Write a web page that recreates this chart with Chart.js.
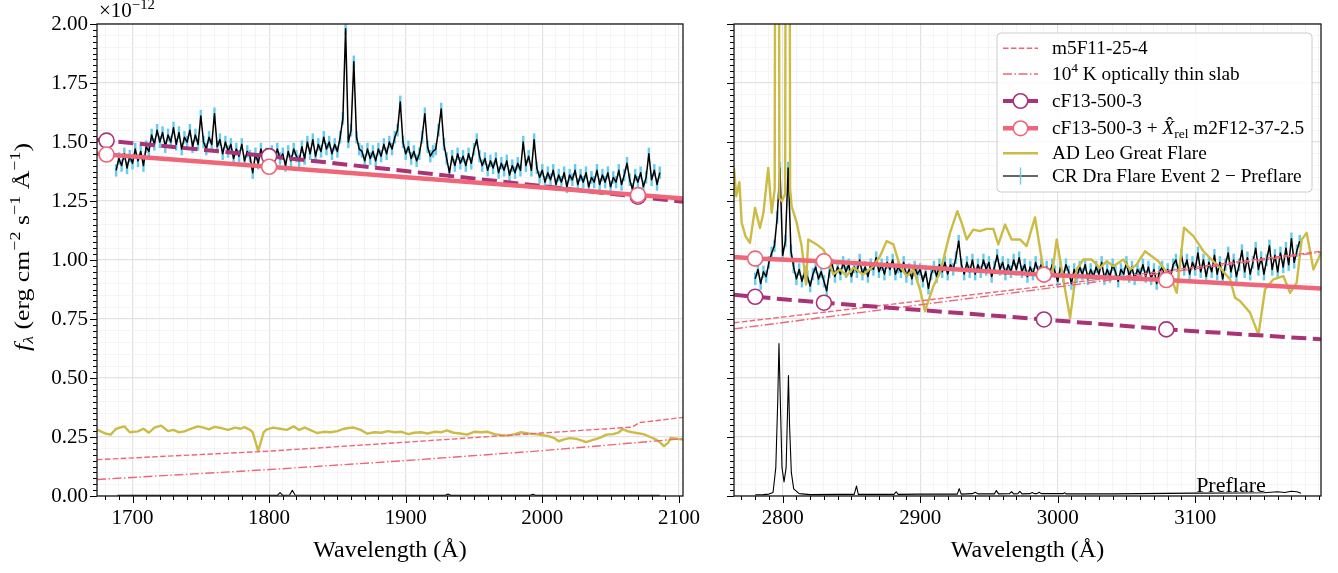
<!DOCTYPE html>
<html><head><meta charset="utf-8">
<script src="https://cdn.jsdelivr.net/npm/chart.js@4.4.1/dist/chart.umd.min.js"></script>
<style>
html,body{margin:0;padding:0;background:#fff;}
#wrap{position:relative;width:1338px;height:573px;overflow:hidden;background:#fff;}
canvas{position:absolute;top:0;}
#cL{left:0;} #cR{left:700px;}
</style></head><body>
<div id="wrap"><canvas id="cL" width="700" height="573"></canvas><canvas id="cR" width="638" height="573"></canvas></div>
<script>
// ---------------- DATA (flux in units of 1e-12 erg cm^-2 s^-1 A^-1) ----------------
const xTicksLeft = [1700, 1800, 1900, 2000, 2100];
const xTicksRight = [2800, 2900, 3000, 3100];
const yTickLabels = ['0.00','0.25','0.50','0.75','1.00','1.25','1.50','1.75','2.00'];

// CR Dra Flare Event 2 - Preflare (left, FUV)
const crLeftWave = [
1688,1690,1692,1694,1696,1698,1700,1702,1704,1706,
1708,1710,1712,1714,1716,1718,1720,1722,1724,1726,
1728,1730,1732,1734,1736,1738,1740,1742,1744,1746,
1748,1750,1752,1754,1756,1758,1760,1762,1764,1766,
1768,1770,1772,1774,1776,1778,1780,1782,1784,1786,
1788,1790,1792,1794,1796,1798,1800,1802,1804,1806,
1808,1810,1812,1814,1816,1818,1820,1822,1824,1826,
1828,1830,1832,1834,1836,1838,1840,1842,1844,1846,
1848,1850,1852,1854,1856,1858,1860,1862,1864,1866,
1868,1870,1872,1874,1876,1878,1880,1882,1884,1886,
1888,1890,1892,1894,1896,1898,1900,1902,1904,1906,
1908,1910,1912,1914,1916,1918,1920,1922,1924,1926,
1928,1930,1932,1934,1936,1938,1940,1942,1944,1946,
1948,1950,1952,1954,1956,1958,1960,1962,1964,1966,
1968,1970,1972,1974,1976,1978,1980,1982,1984,1986,
1988,1990,1992,1994,1996,1998,2000,2002,2004,2006,
2008,2010,2012,2014,2016,2018,2020,2022,2024,2026,
2028,2030,2032,2034,2036,2038,2040,2042,2044,2046,
2048,2050,2052,2054,2056,2058,2060,2062,2064,2066,
2068,2070,2072,2074,2076,2078,2080,2082,2084,2086];
const crLeftFlux = [
1.38,1.43,1.40,1.45,1.39,1.44,1.41,1.47,1.42,1.46,
1.40,1.48,1.46,1.53,1.49,1.55,1.50,1.54,1.48,1.53,
1.50,1.56,1.49,1.54,1.47,1.52,1.50,1.55,1.48,1.53,
1.49,1.61,1.50,1.47,1.52,1.49,1.62,1.48,1.51,1.45,
1.50,1.46,1.49,1.43,1.47,1.44,1.49,1.42,1.46,1.44,
1.37,1.45,1.41,1.47,1.43,1.45,1.41,1.46,1.42,1.47,
1.43,1.45,1.40,1.46,1.42,1.47,1.44,1.42,1.48,1.43,
1.50,1.45,1.51,1.44,1.49,1.46,1.52,1.47,1.50,1.45,
1.49,1.46,1.52,1.60,1.98,1.50,1.55,1.84,1.52,1.47,
1.46,1.42,1.47,1.43,1.46,1.42,1.47,1.44,1.49,1.45,
1.50,1.47,1.52,1.55,1.67,1.50,1.45,1.48,1.43,1.46,
1.42,1.45,1.52,1.62,1.48,1.44,1.46,1.47,1.55,1.64,
1.49,1.43,1.37,1.44,1.40,1.45,1.41,1.44,1.40,1.45,
1.41,1.47,1.51,1.44,1.40,1.43,1.38,1.42,1.39,1.43,
1.37,1.41,1.38,1.42,1.36,1.40,1.37,1.41,1.38,1.50,
1.40,1.44,1.38,1.51,1.39,1.35,1.38,1.33,1.37,1.34,
1.38,1.32,1.36,1.33,1.37,1.31,1.36,1.34,1.38,1.32,
1.36,1.33,1.37,1.31,1.35,1.33,1.38,1.32,1.36,1.33,
1.37,1.31,1.35,1.33,1.38,1.32,1.36,1.41,1.34,1.30,
1.36,1.33,1.37,1.31,1.35,1.45,1.34,1.38,1.32,1.37];
const crLeftErr = 0.025;

// CR Dra Flare Event 2 - Preflare (right, NUV)
const crRightWave = [
2780,2782,2784,2786,2788,2790,2792,2794,2796,2798,
2800,2802,2804,2806,2808,2810,2812,2814,2816,2818,
2820,2822,2824,2826,2828,2830,2832,2834,2836,2838,
2840,2842,2844,2846,2848,2850,2852,2854,2856,2858,
2860,2862,2864,2866,2868,2870,2872,2874,2876,2878,
2880,2882,2884,2886,2888,2890,2892,2894,2896,2898,
2900,2902,2904,2906,2908,2910,2912,2914,2916,2918,
2920,2922,2924,2926,2928,2930,2932,2934,2936,2938,
2940,2942,2944,2946,2948,2950,2952,2954,2956,2958,
2960,2962,2964,2966,2968,2970,2972,2974,2976,2978,
2980,2982,2984,2986,2988,2990,2992,2994,2996,2998,
3000,3002,3004,3006,3008,3010,3012,3014,3016,3018,
3020,3022,3024,3026,3028,3030,3032,3034,3036,3038,
3040,3042,3044,3046,3048,3050,3052,3054,3056,3058,
3060,3062,3064,3066,3068,3070,3072,3074,3076,3078,
3080,3082,3084,3086,3088,3090,3092,3094,3096,3098,
3100,3102,3104,3106,3108,3110,3112,3114,3116,3118,
3120,3122,3124,3126,3128,3130,3132,3134,3136,3138,
3140,3142,3144,3146,3148,3150,3152,3154,3156,3158,
3160,3162,3164,3166,3168,3170,3172,3174,3176];
const crRightFlux = [
0.92,0.96,0.90,0.95,0.93,0.99,1.03,1.06,1.18,1.39,
1.02,1.08,1.39,1.04,0.97,0.92,0.96,0.91,0.95,0.93,
0.89,0.94,0.97,0.92,0.95,0.91,0.87,0.95,0.98,0.93,
0.97,0.94,0.99,0.95,0.98,0.93,0.97,0.95,1.00,0.94,
0.97,0.93,0.98,0.96,1.01,0.95,0.98,0.94,0.99,0.96,
1.00,0.94,0.97,0.95,0.99,0.93,0.96,0.92,0.97,0.94,
0.96,0.91,0.95,0.88,0.94,0.97,0.93,0.98,0.95,0.99,
0.94,0.98,0.96,1.01,1.08,0.98,0.94,0.99,0.95,1.00,
0.94,0.98,0.95,1.00,0.96,0.99,0.93,0.97,1.02,0.96,
0.99,0.94,0.98,0.95,1.00,0.96,1.01,0.95,0.98,0.93,
0.97,0.94,0.99,0.95,0.98,0.93,0.97,0.94,0.98,0.95,
0.91,0.97,0.93,0.98,0.95,0.90,0.96,0.93,0.97,0.94,
0.98,0.92,0.96,0.93,0.97,0.94,0.99,0.92,0.96,0.93,
0.98,0.95,0.91,0.96,0.94,0.99,0.93,0.97,0.92,0.96,
0.94,0.98,0.93,0.97,0.92,0.96,0.90,0.95,0.97,0.92,
0.96,0.93,0.98,1.00,0.95,1.02,0.96,1.00,0.94,0.99,
0.96,1.03,0.95,1.00,0.93,0.99,0.95,1.02,0.94,0.99,
0.92,0.98,1.03,0.95,1.00,0.93,0.98,1.04,0.95,1.01,
0.94,0.99,1.05,0.96,1.01,0.94,1.00,1.06,0.96,1.02,
0.95,1.03,0.97,1.05,0.98,1.09,0.99,1.04,1.08];
const crRightErr = 0.025;

// Preflare spectrum (black, near zero)
const preLeftWave = [1689,1720,1760,1800,1806,1808,1810,1815,1817,1819,1850,1900,1929,1931,1933,1991,1993,1995,2040,2086];
const preLeftFlux = [0.003,0.003,0.003,0.003,0.003,0.014,0.003,0.004,0.024,0.004,0.003,0.003,0.003,0.008,0.003,0.003,0.007,0.003,0.003,0.003];
const preRightWave = [
2780,2786,2790,2793,2795,2796.4,2797.3,2798.3,2799.5,2801,
2802.5,2803.5,2804.2,2805,2806.3,2808,2812,2820,2840,2852,
2853.7,2855,2870,2881,2882.5,2884,2900,2915,2927,2928.4,
2929.8,2938,2940,2942,2954,2955.4,2957,2965,2966.5,2968,
2971,2972.5,2974,2980,2981.5,2983,2985,2986.5,2988,3004,
3005,3006,3040,3080,3100,3130,3150,3160,3165,3170,
3174,3177];
const preRightFlux = [
0.005,0.006,0.008,0.015,0.12,0.40,0.646,0.40,0.12,0.06,
0.12,0.35,0.51,0.30,0.10,0.03,0.01,0.006,0.007,0.007,
0.042,0.007,0.007,0.007,0.018,0.007,0.008,0.008,0.008,0.031,
0.008,0.010,0.016,0.009,0.009,0.023,0.009,0.010,0.018,0.009,
0.010,0.020,0.009,0.010,0.015,0.010,0.010,0.016,0.010,0.010,
0.014,0.009,0.009,0.011,0.012,0.013,0.014,0.018,0.015,0.020,
0.018,0.012];

// AD Leo Great Flare
const adLeftWave = [
1674,1680,1684,1688,1694,1698,1704,1708,1712,1716,
1721,1726,1730,1734,1738,1743,1748,1752,1756,1760,
1765,1770,1775,1779,1782,1786,1788,1790,1792,1794,
1796,1798,1803,1808,1813,1818,1822,1826,1830,1835,
1840,1845,1850,1855,1858,1862,1867,1872,1877,1882,
1887,1892,1897,1902,1906,1911,1916,1921,1926,1930,
1935,1940,1945,1950,1955,1960,1965,1970,1975,1980,
1984,1990,1995,2000,2005,2009,2012,2016,2020,2025,
2029,2032,2036,2042,2047,2052,2056,2059,2062,2066,
2069,2074,2079,2083,2086,2089,2092,2094,2098,2103];
const adLeftFlux = [
0.281,0.265,0.260,0.285,0.295,0.270,0.274,0.285,0.268,0.290,
0.298,0.275,0.280,0.270,0.274,0.285,0.295,0.290,0.282,0.293,
0.288,0.280,0.290,0.285,0.292,0.280,0.270,0.230,0.190,0.230,
0.270,0.281,0.290,0.285,0.280,0.295,0.280,0.290,0.280,0.267,
0.272,0.270,0.275,0.285,0.288,0.290,0.280,0.264,0.270,0.268,
0.275,0.270,0.272,0.262,0.268,0.270,0.265,0.272,0.270,0.278,
0.268,0.265,0.260,0.272,0.270,0.272,0.262,0.258,0.256,0.262,
0.270,0.265,0.262,0.258,0.253,0.245,0.232,0.240,0.245,0.242,
0.235,0.228,0.236,0.246,0.260,0.262,0.270,0.284,0.275,0.270,
0.267,0.262,0.250,0.240,0.228,0.211,0.225,0.246,0.243,0.239];
const adRightWave = [
2764.6,2766.2,2768.5,2770.2,2773,2776.2,2779.9,2783.5,2786,2789.5,
2792,2794.2,2796,2797.6,2799.5,2801.8,2803.8,2805.4,2806.5,2810.2,
2813.8,2817,2818.6,2824.7,2829.6,2833.2,2836.8,2841.7,2846.5,2851.4,
2858.6,2865.9,2870.8,2875.6,2880.5,2885.3,2890.2,2895,2899.9,2903.5,
2909.6,2914.4,2921.7,2927,2930.2,2933.8,2938.6,2943.5,2948.3,2953.2,
2956.8,2961.7,2966.5,2972.6,2977.4,2983.5,2989.6,2995.7,2999.3,3004.1,
3009,3013.8,3018.7,3024.7,3030.8,3035.7,3040.5,3047.8,3052.6,3057.5,
3063.5,3068.4,3073.2,3076.9,3082.9,3086.6,3091.9,3098.7,3106,3112,
3118.1,3125.4,3129,3132.6,3139.9,3146,3150.8,3156.9,3164.1,3169,
3173.8,3177.5,3181.1,3186,3191.5];
const adRightFlux = [
1.39,1.27,1.33,1.158,1.10,1.073,1.221,1.136,1.20,1.39,
1.20,1.30,8.0,1.26,1.25,1.28,8.0,1.30,1.228,1.157,
1.059,0.896,1.087,1.066,1.044,1.002,0.939,0.960,0.932,0.967,
0.939,0.974,1.016,1.080,1.066,0.974,0.932,0.960,0.875,0.783,
0.889,0.946,1.115,1.207,1.157,1.087,1.129,1.122,1.132,1.132,
1.066,1.150,1.087,1.087,1.059,1.180,0.960,0.932,1.087,0.918,
0.755,0.960,1.002,1.002,0.967,0.995,0.974,1.002,0.960,0.981,
1.037,1.016,0.995,0.967,0.918,0.861,1.137,1.101,1.037,1.002,
0.967,0.918,0.840,0.826,0.777,0.684,0.875,0.918,0.932,0.861,
0.903,1.087,1.115,0.960,1.030];

// m5F11-25-4 model
const m5LeftWave = [1674, 1800, 1900, 2000, 2066, 2071, 2103];
const m5LeftFlux = [0.154, 0.190, 0.228, 0.267, 0.292, 0.311, 0.333];
const m5RightWave = [2764.6, 2880, 2986, 3191.5];
const m5RightFlux = [0.734, 0.813, 0.886, 1.037];
// 10^4 K optically thin slab
const slabLeftWave = [1674, 1800, 1900, 2000, 2103];
const slabLeftFlux = [0.070, 0.112, 0.150, 0.192, 0.243];
const slabRightWave = [2764.6, 2880, 2986, 3191.5];
const slabRightFlux = [0.708, 0.795, 0.875, 1.033];
// cF13-500-3
const cfLeftWave = [1674, 1681, 1800, 1900, 2000, 2070, 2103];
const cfLeftFlux = [1.510, 1.506, 1.440, 1.377, 1.313, 1.268, 1.247];
const cfRightWave = [2764.6, 2780, 2830, 2990, 3079, 3191.5];
const cfRightFlux = [0.853, 0.844, 0.819, 0.748, 0.706, 0.664];
// cF13-500-3 + X_rel m2F12-37-2.5
const cfxLeftWave = [1674, 1681, 1800, 1900, 2000, 2070, 2103];
const cfxLeftFlux = [1.450, 1.447, 1.395, 1.351, 1.307, 1.275, 1.261];
const cfxRightWave = [2764.6, 2780, 2830, 2990, 3079, 3191.5];
const cfxRightFlux = [1.013, 1.006, 0.995, 0.938, 0.915, 0.879];
// wavelengths where model markers are shown
const markerLeftWave = [1681, 1800, 2070];
const markerRightWave = [2780, 2830, 2990, 3079];

// ---------------- STYLE ----------------
const FONT = '"Liberation Serif", "DejaVu Serif", serif';
const PURPLE = '#AA3377', PINK = '#EE6677', YELLOW = '#CCBB44', CYAN = '#66CCEE';
const MINUS = '\u2212';

function isMult(v, step) { const r = v / step; return Math.abs(r - Math.round(r)) < 1e-6; }
function pts(w, f) { return w.map((x, i) => ({x: x, y: f[i]})); }
function errs(w, f, e) { return w.map((x, i) => ({x: x, y: [f[i] - e, f[i] + e]})); }

function drawRich(ctx, segs, x, y, size, align, fitWidth) {
  const items = segs.map(s => {
    const fs = s.mode ? size * 0.7 : size;
    const font = (s.italic ? 'italic ' : '') + fs + 'px ' + FONT;
    ctx.font = font;
    const w = ctx.measureText(s.t).width;
    const dy = s.mode === 'sup' ? -size * 0.40 : (s.mode === 'sub' ? size * 0.20 : 0);
    return {s, font, fs, w, dy};
  });
  const total = items.reduce((a, it) => a + it.w, 0);
  ctx.save();
  ctx.translate(x, y);
  if (fitWidth) ctx.scale(fitWidth / total, 1);
  let cx = align === 'center' ? -total / 2 : 0;
  ctx.textAlign = 'left'; ctx.textBaseline = 'alphabetic'; ctx.fillStyle = '#000';
  for (const it of items) {
    ctx.font = it.font;
    ctx.fillText(it.s.t, cx, it.dy);
    if (it.s.hat) {
      ctx.save(); ctx.font = it.fs + 'px ' + FONT; ctx.textAlign = 'center';
      ctx.fillText('\u02C6', cx + it.w * 0.62, it.dy - it.fs * 0.24);
      ctx.restore();
    }
    cx += it.w;
  }
  ctx.restore();
  return total;
}

const framePlugin = {
  id: 'frame',
  afterDatasetsDraw(chart) {
    const {ctx, chartArea: a} = chart;
    const xs = chart.scales.x, ys = chart.scales.y;
    ctx.save();
    ctx.strokeStyle = '#000'; ctx.lineWidth = 1;
    ctx.beginPath();
    xs.ticks.forEach(t => {
      if (!isMult(t.value, 10)) return;
      const len = isMult(t.value, 100) ? 7 : 4;
      const px = Math.round(xs.getPixelForValue(t.value)) + 0.5;
      ctx.moveTo(px, a.bottom); ctx.lineTo(px, a.bottom + len);
    });
    ys.ticks.forEach(t => {
      const len = isMult(t.value, 0.25) ? 7 : 4;
      const py = Math.round(ys.getPixelForValue(t.value)) + 0.5;
      ctx.moveTo(a.left, py); ctx.lineTo(a.left - len, py);
    });
    ctx.stroke();
    ctx.strokeStyle = '#1a1a1a'; ctx.lineWidth = 1.3;
    ctx.strokeRect(a.left, a.top, a.right - a.left, a.bottom - a.top);
    ctx.restore();
  }
};

function xTitle(chart) {
  const {ctx, chartArea: a} = chart;
  drawRich(ctx, [{t: 'Wavelength (\u00C5)'}], (a.left + a.right) / 2, 557, 24, 'center');
}

const leftTextPlugin = {
  id: 'leftText',
  afterDraw(chart) {
    const ctx = chart.ctx;
    xTitle(chart);
    ctx.save();
    ctx.translate(29, 247);
    ctx.rotate(-Math.PI / 2);
    drawRich(ctx, [
      {t: 'f', italic: true}, {t: '\u03BB', italic: true, mode: 'sub'},
      {t: ' (erg cm'}, {t: MINUS + '2', mode: 'sup'},
      {t: ' s'}, {t: MINUS + '1', mode: 'sup'},
      {t: ' \u00C5'}, {t: MINUS + '1', mode: 'sup'}, {t: ')'}
    ], 0, 0, 22, 'center', 208);
    ctx.restore();
    drawRich(ctx, [{t: '\u00D710'}, {t: MINUS + '12', mode: 'sup'}], 99, 17, 21, 'left');
  }
};

const legendRows = [
  {label: [{t: 'm5F11-25-4'}], kind: 'dash'},
  {label: [{t: '10'}, {t: '4', mode: 'sup'}, {t: ' K optically thin slab'}], kind: 'dashdot'},
  {label: [{t: 'cF13-500-3'}], kind: 'purple'},
  {label: [{t: 'cF13-500-3 + '}, {t: 'X', italic: true, hat: true}, {t: 'rel', mode: 'sub'}, {t: ' m2F12-37-2.5'}], kind: 'pink'},
  {label: [{t: 'AD Leo Great Flare'}], kind: 'yellow'},
  {label: [{t: 'CR Dra Flare Event 2 ' + MINUS + ' Preflare'}], kind: 'crdra'}
];
const legendRowY = [48.3, 74, 101, 128.3, 153.3, 176];

const rightTextPlugin = {
  id: 'rightText',
  afterDraw(chart) {
    const ctx = chart.ctx;
    xTitle(chart);
    // "Preflare" annotation placed in data coordinates
    const px = chart.scales.x.getPixelForValue(3126), py = chart.scales.y.getPixelForValue(0.018);
    drawRich(ctx, [{t: 'Preflare'}], px, py, 22, 'center');
    // legend
    const L = 297, T = 33, R = 612, B = 192, r = 4;
    ctx.save();
    ctx.beginPath();
    ctx.moveTo(L + r, T); ctx.lineTo(R - r, T); ctx.quadraticCurveTo(R, T, R, T + r);
    ctx.lineTo(R, B - r); ctx.quadraticCurveTo(R, B, R - r, B);
    ctx.lineTo(L + r, B); ctx.quadraticCurveTo(L, B, L, B - r);
    ctx.lineTo(L, T + r); ctx.quadraticCurveTo(L, T, L + r, T);
    ctx.closePath();
    ctx.fillStyle = 'rgba(255,255,255,0.85)'; ctx.fill();
    ctx.strokeStyle = '#cccccc'; ctx.lineWidth = 1; ctx.stroke();
    const h0 = 303, h1 = 338, hc = (h0 + h1) / 2;
    legendRows.forEach((row, i) => {
      const y = legendRowY[i];
      ctx.save();
      ctx.lineCap = 'butt';
      if (row.kind === 'dash') {
        ctx.strokeStyle = PINK; ctx.lineWidth = 1.4; ctx.setLineDash([5.5, 2.4]);
      } else if (row.kind === 'dashdot') {
        ctx.strokeStyle = PINK; ctx.lineWidth = 1.4; ctx.setLineDash([9, 2.5, 1.5, 2.5]);
      } else if (row.kind === 'purple') {
        ctx.strokeStyle = PURPLE; ctx.lineWidth = 4;
      } else if (row.kind === 'pink') {
        ctx.strokeStyle = PINK; ctx.lineWidth = 4.5;
      } else if (row.kind === 'yellow') {
        ctx.strokeStyle = YELLOW; ctx.lineWidth = 2.4;
      } else {
        ctx.strokeStyle = '#333'; ctx.lineWidth = 1.4;
      }
      ctx.beginPath(); ctx.moveTo(h0, y); ctx.lineTo(h1, y); ctx.stroke();
      ctx.setLineDash([]);
      if (row.kind === 'purple' || row.kind === 'pink') {
        ctx.beginPath(); ctx.arc(hc, y, 7.3, 0, Math.PI * 2);
        ctx.fillStyle = '#fff'; ctx.fill();
        ctx.strokeStyle = row.kind === 'purple' ? PURPLE : PINK; ctx.lineWidth = 1.6; ctx.stroke();
      }
      if (row.kind === 'crdra') {
        ctx.strokeStyle = CYAN; ctx.lineWidth = 1.4;
        ctx.beginPath(); ctx.moveTo(hc, y - 8.5); ctx.lineTo(hc, y + 8.5); ctx.stroke();
      }
      ctx.restore();
      drawRich(ctx, row.label, 352, y + 6, 19.3, 'left');
    });
    ctx.restore();
  }
};

function makeDatasets(P) {
  const mark = ctx => (ctx.raw && P.markers.indexOf(ctx.raw.x) >= 0) ? 7.5 : 0;
  return [
    {type: 'bar', data: errs(P.crWave, P.crFlux, P.err), backgroundColor: CYAN, borderWidth: 0,
     barThickness: 1.8, order: 10, clip: 0},
    {type: 'line', data: pts(P.crWave, P.crFlux), borderColor: '#000', borderWidth: 1.5, pointRadius: 0,
     borderJoinStyle: 'round', order: 9, clip: 0},
    {type: 'line', data: pts(P.preWave, P.preFlux), borderColor: '#000', borderWidth: 1.1, pointRadius: 0,
     borderJoinStyle: 'round', order: 8, clip: 0},
    {type: 'line', data: pts(P.adWave, P.adFlux), borderColor: YELLOW, borderWidth: 2.4, pointRadius: 0,
     borderJoinStyle: 'round', order: 7, clip: 0},
    {type: 'line', data: pts(P.m5Wave, P.m5Flux), borderColor: PINK, borderWidth: 1.4, borderDash: [5.5, 2.4],
     pointRadius: 0, order: 6, clip: 0},
    {type: 'line', data: pts(P.slabWave, P.slabFlux), borderColor: PINK, borderWidth: 1.4, borderDash: [9, 2.5, 1.5, 2.5],
     pointRadius: 0, order: 5, clip: 0},
    {type: 'line', data: pts(P.cfWave, P.cfFlux), borderColor: PURPLE, borderWidth: 4, borderDash: [15, 6.5],
     pointRadius: mark, pointBackgroundColor: '#fff', pointBorderColor: PURPLE, pointBorderWidth: 1.6, order: 4, clip: 0},
    {type: 'line', data: pts(P.cfxWave, P.cfxFlux), borderColor: PINK, borderWidth: 4.5,
     pointRadius: mark, pointBackgroundColor: '#fff', pointBorderColor: PINK, pointBorderWidth: 1.6, order: 3, clip: 0}
  ];
}

function makeOptions(xmin, xmax, xTickList, yAxisWidth, showYLabels) {
  return {
    responsive: false, animation: false, devicePixelRatio: 1, events: [],
    layout: {padding: {top: 24, right: 17, left: 0, bottom: 0}},
    plugins: {legend: {display: false}, tooltip: {enabled: false}, title: {display: false}},
    scales: {
      x: {
        type: 'linear', min: xmin, max: xmax, offset: false,
        ticks: {stepSize: 10, includeBounds: false, autoSkip: false, maxRotation: 0, minRotation: 0, padding: 10,
          color: '#000', font: {family: FONT, size: 21},
          callback: v => xTickList.indexOf(Math.round(v)) >= 0 && isMult(v, 100) ? String(Math.round(v)) : ''},
        grid: {offset: false, drawTicks: false,
          color: c => isMult(c.tick.value, 100) ? '#e2e2e2' : (isMult(c.tick.value, 10) ? '#f3f3f3' : 'rgba(0,0,0,0)'),
          lineWidth: c => isMult(c.tick.value, 100) ? 1.2 : 0.8},
        border: {display: false},
        afterFit: s => { s.height = 77; s.paddingLeft = 0; s.paddingRight = 0; }
      },
      y: {
        type: 'linear', min: 0, max: 2,
        ticks: {stepSize: 0.025, includeBounds: false, autoSkip: false, padding: 9, color: '#000',
          font: {family: FONT, size: 21},
          callback: v => (showYLabels && isMult(v, 0.25)) ? yTickLabels[Math.round(v / 0.25)] : ''},
        grid: {drawTicks: false,
          color: c => isMult(c.tick.value, 0.25) ? '#e2e2e2' : (isMult(c.tick.value, 0.05) ? '#f3f3f3' : 'rgba(0,0,0,0)'),
          lineWidth: c => isMult(c.tick.value, 0.25) ? 1.2 : 0.8},
        border: {display: false},
        afterFit: s => { s.width = yAxisWidth; s.paddingTop = 0; s.paddingBottom = 0; }
      }
    }
  };
}

const leftPanel = {crWave: crLeftWave, crFlux: crLeftFlux, err: crLeftErr, preWave: preLeftWave, preFlux: preLeftFlux,
  adWave: adLeftWave, adFlux: adLeftFlux, m5Wave: m5LeftWave, m5Flux: m5LeftFlux, slabWave: slabLeftWave, slabFlux: slabLeftFlux,
  cfWave: cfLeftWave, cfFlux: cfLeftFlux, cfxWave: cfxLeftWave, cfxFlux: cfxLeftFlux, markers: markerLeftWave};
const rightPanel = {crWave: crRightWave, crFlux: crRightFlux, err: crRightErr, preWave: preRightWave, preFlux: preRightFlux,
  adWave: adRightWave, adFlux: adRightFlux, m5Wave: m5RightWave, m5Flux: m5RightFlux, slabWave: slabRightWave, slabFlux: slabRightFlux,
  cfWave: cfRightWave, cfFlux: cfRightFlux, cfxWave: cfxRightWave, cfxFlux: cfxRightFlux, markers: markerRightWave};

new Chart(document.getElementById('cL'), {
  type: 'line',
  data: {datasets: makeDatasets(leftPanel)},
  options: makeOptions(1674, 2103, xTicksLeft, 97, true),
  plugins: [framePlugin, leftTextPlugin]
});
new Chart(document.getElementById('cR'), {
  type: 'line',
  data: {datasets: makeDatasets(rightPanel)},
  options: makeOptions(2764.6, 3191.5, xTicksRight, 34, false),
  plugins: [framePlugin, rightTextPlugin]
});
</script>
</body></html>
